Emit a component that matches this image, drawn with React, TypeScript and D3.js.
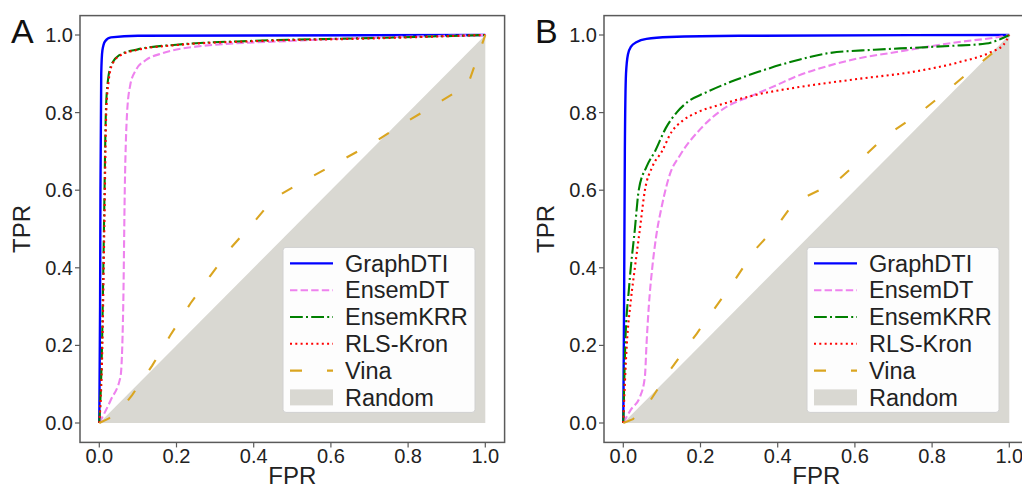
import React from 'react';
import * as d3 from 'd3';

// ROC points, [FPR, TPR]
const aGraphDTI: [number, number][] = [[0, 0], [0.002, 0.3], [0.003, 0.6], [0.005, 0.9], [0.008, 0.96], [0.015, 0.984], [0.03, 0.994], [0.1, 0.998], [1, 1]];
const aEnsemDT: [number, number][] = [[0, 0], [0.03, 0.06], [0.055, 0.12], [0.062, 0.3], [0.066, 0.6], [0.072, 0.8], [0.08, 0.87], [0.095, 0.91], [0.12, 0.935], [0.16, 0.952], [0.25, 0.97], [0.5, 0.985], [1, 1]];
const aEnsemKRR: [number, number][] = [[0, 0], [0.007, 0.2], [0.012, 0.5], [0.017, 0.8], [0.022, 0.88], [0.032, 0.925], [0.052, 0.948], [0.1, 0.963], [0.2, 0.975], [0.4, 0.985], [0.7, 0.992], [1, 1]];
const aRLSKron: [number, number][] = [[0, 0], [0.008, 0.2], [0.013, 0.5], [0.018, 0.8], [0.024, 0.88], [0.034, 0.925], [0.054, 0.947], [0.1, 0.962], [0.2, 0.974], [0.4, 0.984], [0.7, 0.991], [1, 1]];
const aVina: [number, number][] = [[0, 0], [0.025, 0.012], [0.06, 0.04], [0.085, 0.072], [0.137, 0.148], [0.184, 0.226], [0.236, 0.308], [0.288, 0.38], [0.344, 0.455], [0.404, 0.522], [0.447, 0.573], [0.464, 0.586], [0.525, 0.621], [0.629, 0.678], [0.71, 0.722], [0.788, 0.772], [0.87, 0.82], [0.955, 0.872], [1, 1]];

const bGraphDTI: [number, number][] = [[0, 0], [0.002, 0.3], [0.004, 0.7], [0.007, 0.9], [0.012, 0.95], [0.02, 0.97], [0.035, 0.982], [0.06, 0.99], [0.12, 0.995], [0.3, 0.998], [1, 1]];
const bEnsemDT: [number, number][] = [[0, 0], [0.02, 0.035], [0.043, 0.067], [0.056, 0.12], [0.06, 0.2], [0.066, 0.3], [0.075, 0.4], [0.085, 0.48], [0.1, 0.56], [0.121, 0.642], [0.147, 0.69], [0.2, 0.758], [0.26, 0.81], [0.337, 0.845], [0.4, 0.872], [0.44, 0.89], [0.53, 0.92], [0.61, 0.94], [0.7, 0.955], [0.79, 0.97], [0.87, 0.982], [0.96, 0.993], [1, 1]];
const bEnsemKRR: [number, number][] = [[0, 0], [0.005, 0.2], [0.015, 0.35], [0.03, 0.5], [0.04, 0.6], [0.06, 0.66], [0.082, 0.7], [0.11, 0.76], [0.138, 0.8], [0.17, 0.83], [0.21, 0.85], [0.28, 0.88], [0.35, 0.905], [0.45, 0.935], [0.53, 0.953], [0.65, 0.962], [0.75, 0.967], [0.85, 0.972], [0.94, 0.978], [1, 1]];
const bRLSKron: [number, number][] = [[0, 0], [0.004, 0.1], [0.009, 0.2], [0.02, 0.32], [0.03, 0.4], [0.043, 0.5], [0.056, 0.6], [0.075, 0.66], [0.1, 0.7], [0.125, 0.75], [0.155, 0.78], [0.19, 0.8], [0.25, 0.82], [0.34, 0.845], [0.45, 0.865], [0.61, 0.887], [0.75, 0.905], [0.87, 0.93], [0.95, 0.955], [0.985, 0.975], [1, 1]];
const bVina: [number, number][] = [[0, 0], [0.025, 0.01], [0.07, 0.058], [0.12, 0.135], [0.19, 0.23], [0.24, 0.3], [0.29, 0.37], [0.34, 0.445], [0.4, 0.51], [0.44, 0.565], [0.47, 0.582], [0.55, 0.62], [0.6, 0.665], [0.68, 0.74], [0.76, 0.793], [0.83, 0.849], [0.9, 0.908], [0.97, 0.964], [1, 1]];

const seriesNames = ['GraphDTI', 'EnsemDT', 'EnsemKRR', 'RLS-Kron', 'Vina'];
const seriesColors = ['#0000ff', '#ee82ee', '#008000', '#ff0000', '#daa520'];
const seriesDash = ['none', '7.4,3.2', '12.8,3.2,2,3.2', '2,3.3', '12,25'];
const ticks = [0, 0.2, 0.4, 0.6, 0.8, 1.0];
const tickLabels = ['0.0', '0.2', '0.4', '0.6', '0.8', '1.0'];

const panels = [
  { letter: 'A', left: 80, data: [aGraphDTI, aEnsemDT, aEnsemKRR, aRLSKron, aVina] },
  { letter: 'B', left: 604, data: [bGraphDTI, bEnsemDT, bEnsemKRR, bRLSKron, bVina] },
];

const W = 1022, H = 492;
const axW = 424.6, top = 15.6, bottom = 442.4;
const font = '"Liberation Sans", Arial, sans-serif';
const spine = '#5a5a5a';

function Panel({ letter, left, data }: { letter: string; left: number; data: [number, number][][] }) {
  const x = d3.scaleLinear().domain([-0.05, 1.05]).range([left, left + axW]);
  const y = d3.scaleLinear().domain([-0.05, 1.05]).range([bottom, top]);
  const smooth = d3.line<[number, number]>().x(d => x(d[0])).y(d => y(d[1])).curve(d3.curveMonotoneX);
  const straight = d3.line<[number, number]>().x(d => x(d[0])).y(d => y(d[1]));
  const tri = `M${x(0)},${y(0)}L${x(1)},${y(0)}L${x(1)},${y(1)}Z`;

  const lgR = x(1.05) - 29.6, lgB = y(-0.05) - 30;
  const lgW = 192, lgH = 165;
  const lgL = lgR - lgW, lgT = lgB - lgH;
  const rowY = (i: number) => lgT + 16 + i * 26.8;

  return (
    <g>
      <path d={tri} fill="#d9d8d2" />
      {data.map((pts, i) => (
        <path key={i} d={i === 4 ? straight(pts)! : smooth(pts)!} fill="none"
          stroke={seriesColors[i]} strokeWidth={i === 0 ? 2.4 : 2.1}
          strokeDasharray={seriesDash[i]} />
      ))}
      <rect x={left} y={top} width={axW} height={bottom - top} fill="none" stroke={spine} strokeWidth={1.5} />
      {ticks.map((t, i) => (
        <g key={i}>
          <line x1={x(t)} x2={x(t)} y1={bottom} y2={bottom + 5} stroke={spine} strokeWidth={1.2} />
          <text x={x(t)} y={bottom + 21} textAnchor="middle" fontSize={20} fontFamily={font} fill="#222">{tickLabels[i]}</text>
          <line x1={left} x2={left - 5} y1={y(t)} y2={y(t)} stroke={spine} strokeWidth={1.2} />
          <text x={left - 7} y={y(t)} dy="0.35em" textAnchor="end" fontSize={20} fontFamily={font} fill="#222">{tickLabels[i]}</text>
        </g>
      ))}
      <text x={x(0.5)} y={484} textAnchor="middle" fontSize={24} fontFamily={font} fill="#222">FPR</text>
      <text transform={`translate(${left - 50},${y(0.5)}) rotate(-90)`} textAnchor="middle" fontSize={24} fontFamily={font} fill="#222">TPR</text>
      <text x={left - 69} y={43} fontSize={34} fontFamily={font} fill="#111">{letter}</text>

      <rect x={lgL} y={lgT} width={lgW} height={lgH} rx={3} fill="#fff" fillOpacity={0.95} stroke="#d0d0d0" strokeWidth={1} />
      {seriesNames.map((n, i) => (
        <g key={n}>
          <line x1={lgL + 7} x2={lgL + 50} y1={rowY(i)} y2={rowY(i)} stroke={seriesColors[i]}
            strokeWidth={i === 0 ? 2.4 : 2.1} strokeDasharray={seriesDash[i]} />
          <text x={lgL + 62} y={rowY(i)} dy="0.35em" fontSize={23.5} fontFamily={font} fill="#222">{n}</text>
        </g>
      ))}
      <rect x={lgL + 7} y={rowY(5) - 8} width={43} height={16} fill="#d9d8d2" />
      <text x={lgL + 62} y={rowY(5)} dy="0.35em" fontSize={23.5} fontFamily={font} fill="#222">Random</text>
    </g>
  );
}

export default function App() {
  return (
    <svg width={W} height={H} style={{ position: 'absolute', left: 0, top: 0, background: '#fff' }}>
      {panels.map(p => <Panel key={p.letter} {...p} />)}
    </svg>
  );
}
